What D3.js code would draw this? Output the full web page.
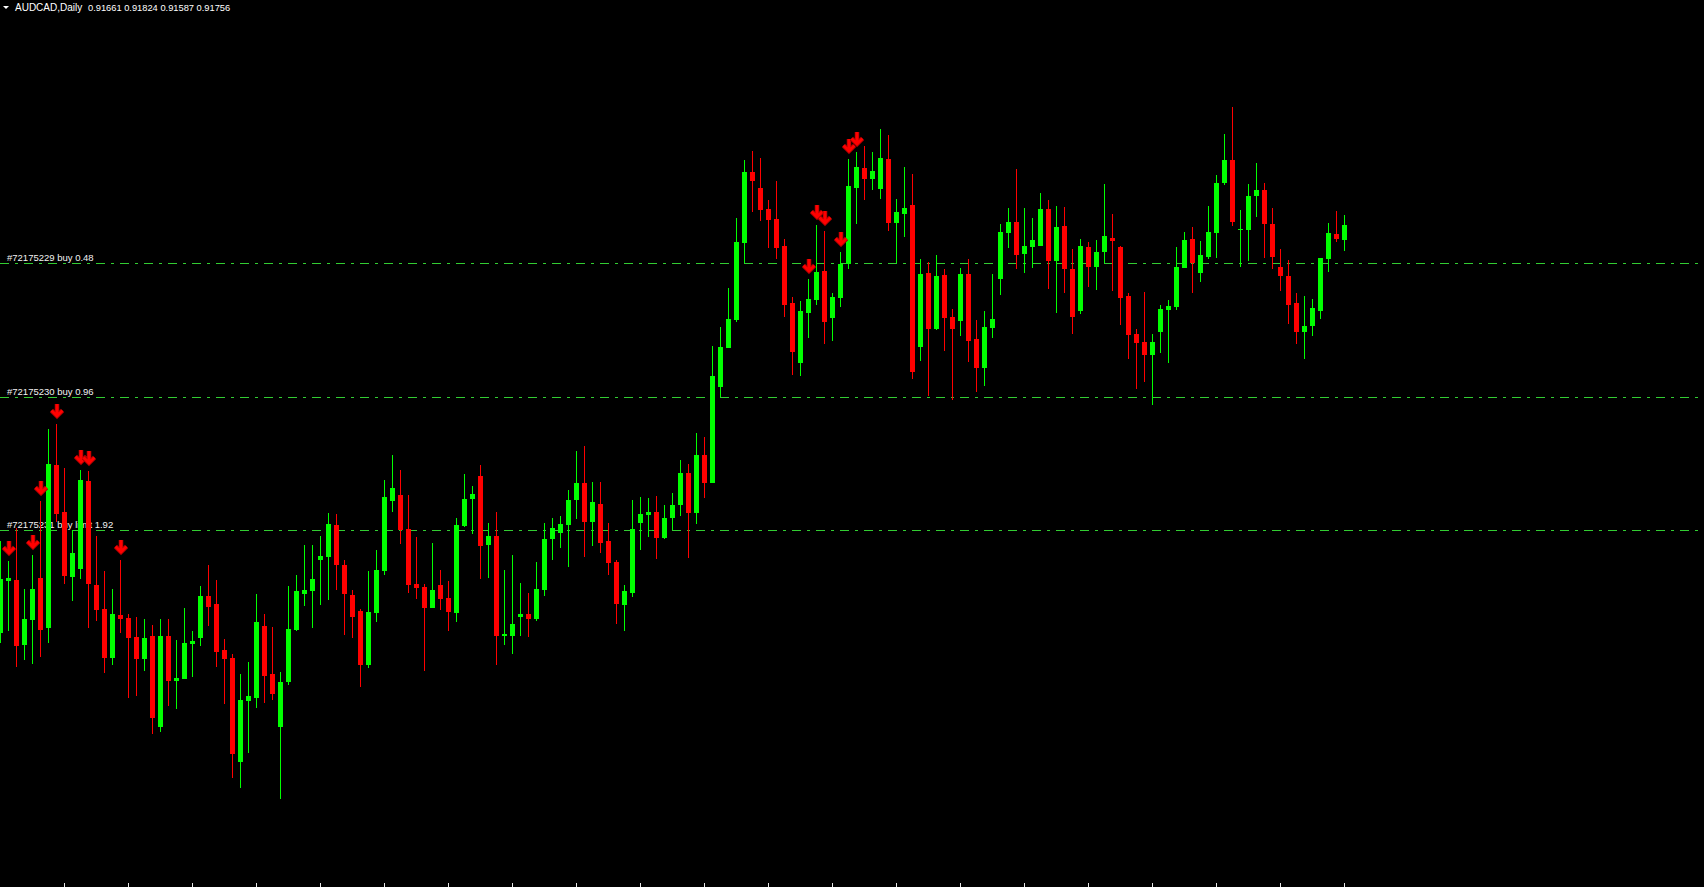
<!DOCTYPE html>
<html>
<head>
<meta charset="utf-8">
<script src="https://d3js.org/d3.v7.min.js"></script>
<style>
body { margin: 0; background: #000; overflow: hidden; }
svg { display: block; }
text { font-family: "Liberation Sans", Arial, sans-serif; }
</style>
</head>
<body>
<div id="chart"></div>
<script>

// header of the chart window
var symbol = "AUDCAD,Daily";
var lastQuote = "0.91661 0.91824 0.91587 0.91756";

// daily bars, oldest first
var open = [
  0.8767, 0.8819, 0.8820, 0.8755, 0.8780, 0.8822, 0.8772, 0.8935, 0.8888, 0.8823,
  0.8831, 0.8919, 0.8815, 0.8791, 0.8742, 0.8785, 0.8782, 0.8763, 0.8741, 0.8764,
  0.8673, 0.8764, 0.8719, 0.8721, 0.8756, 0.8762, 0.8804, 0.8796, 0.8750, 0.8742,
  0.8638, 0.8699, 0.8702, 0.8774, 0.8726, 0.8673, 0.8718, 0.8770, 0.8806, 0.8809,
  0.8840, 0.8843, 0.8875, 0.8835, 0.8805, 0.8789, 0.8735, 0.8787, 0.8829, 0.8899,
  0.8905, 0.8871, 0.8816, 0.8813, 0.8792, 0.8815, 0.8802, 0.8787, 0.8874, 0.8901,
  0.8924, 0.8855, 0.8864, 0.8764, 0.8764, 0.8783, 0.8786, 0.8781, 0.8810, 0.8861,
  0.8867, 0.8875, 0.8900, 0.8917, 0.8878, 0.8896, 0.8859, 0.8838, 0.8795, 0.8807,
  0.8877, 0.8885, 0.8888, 0.8862, 0.8882, 0.8895, 0.8927, 0.8887, 0.8945, 0.8917,
  0.9013, 0.9052, 0.9080, 0.9157, 0.9228, 0.9212, 0.9191, 0.9181, 0.9154, 0.9097,
  0.9037, 0.9087, 0.9100, 0.9129, 0.9082, 0.9102, 0.9136, 0.9212, 0.9232, 0.9221,
  0.9211, 0.9241, 0.9177, 0.9186, 0.9195, 0.9053, 0.9127, 0.9071, 0.9125, 0.9083,
  0.9079, 0.9126, 0.9061, 0.9032, 0.9072, 0.9121, 0.9167, 0.9178, 0.9146, 0.9153,
  0.9154, 0.9191, 0.9139, 0.9174, 0.9131, 0.9089, 0.9153, 0.9133, 0.9148, 0.9162,
  0.9153, 0.9104, 0.9066, 0.9058, 0.9045, 0.9068, 0.9090, 0.9093, 0.9132, 0.9161,
  0.9127, 0.9143, 0.9167, 0.9217, 0.9240, 0.9170, 0.9170, 0.9204, 0.9210, 0.9176,
  0.9133, 0.9124, 0.9097, 0.9068, 0.9074, 0.9089, 0.9141, 0.9166, 0.9160
];
var high = [
  0.8859, 0.8839, 0.8872, 0.8811, 0.8845, 0.8899, 0.8971, 0.8976, 0.8932, 0.8870,
  0.8930, 0.8929, 0.8864, 0.8829, 0.8811, 0.8840, 0.8786, 0.8783, 0.8781, 0.8775,
  0.8781, 0.8781, 0.8760, 0.8792, 0.8769, 0.8814, 0.8835, 0.8820, 0.8761, 0.8746,
  0.8726, 0.8738, 0.8806, 0.8786, 0.8773, 0.8728, 0.8814, 0.8825, 0.8855, 0.8855,
  0.8864, 0.8887, 0.8886, 0.8840, 0.8810, 0.8791, 0.8829, 0.8850, 0.8920, 0.8945,
  0.8930, 0.8905, 0.8863, 0.8816, 0.8857, 0.8830, 0.8819, 0.8882, 0.8926, 0.8914,
  0.8935, 0.8877, 0.8888, 0.8830, 0.8845, 0.8817, 0.8807, 0.8838, 0.8877, 0.8882,
  0.8884, 0.8910, 0.8949, 0.8954, 0.8918, 0.8918, 0.8877, 0.8840, 0.8815, 0.8900,
  0.8903, 0.8902, 0.8904, 0.8895, 0.8907, 0.8940, 0.8936, 0.8967, 0.8963, 0.9054,
  0.9073, 0.9112, 0.9182, 0.9240, 0.9249, 0.9242, 0.9200, 0.9219, 0.9161, 0.9103,
  0.9099, 0.9121, 0.9175, 0.9169, 0.9107, 0.9148, 0.9241, 0.9248, 0.9254, 0.9248,
  0.9271, 0.9265, 0.9201, 0.9233, 0.9226, 0.9141, 0.9138, 0.9145, 0.9131, 0.9091,
  0.9132, 0.9141, 0.9080, 0.9089, 0.9126, 0.9176, 0.9192, 0.9231, 0.9192, 0.9182,
  0.9207, 0.9200, 0.9194, 0.9193, 0.9151, 0.9161, 0.9158, 0.9160, 0.9216, 0.9186,
  0.9154, 0.9107, 0.9071, 0.9108, 0.9066, 0.9095, 0.9100, 0.9153, 0.9168, 0.9173,
  0.9159, 0.9194, 0.9225, 0.9266, 0.9293, 0.9190, 0.9216, 0.9237, 0.9217, 0.9192,
  0.9151, 0.9140, 0.9107, 0.9104, 0.9101, 0.9142, 0.9177, 0.9189, 0.9185
];
var low = [
  0.8757, 0.8769, 0.8733, 0.8740, 0.8736, 0.8743, 0.8757, 0.8878, 0.8816, 0.8799,
  0.8821, 0.8772, 0.8779, 0.8727, 0.8735, 0.8767, 0.8702, 0.8704, 0.8729, 0.8666,
  0.8668, 0.8694, 0.8691, 0.8721, 0.8723, 0.8754, 0.8774, 0.8733, 0.8696, 0.8622,
  0.8612, 0.8647, 0.8692, 0.8697, 0.8700, 0.8601, 0.8715, 0.8769, 0.8794, 0.8772,
  0.8795, 0.8800, 0.8810, 0.8765, 0.8762, 0.8713, 0.8732, 0.8778, 0.8825, 0.8888,
  0.8856, 0.8807, 0.8801, 0.8729, 0.8792, 0.8790, 0.8769, 0.8778, 0.8873, 0.8866,
  0.8821, 0.8822, 0.8735, 0.8755, 0.8746, 0.8764, 0.8763, 0.8779, 0.8804, 0.8840,
  0.8852, 0.8833, 0.8881, 0.8843, 0.8854, 0.8847, 0.8825, 0.8776, 0.8769, 0.8803,
  0.8850, 0.8863, 0.8841, 0.8861, 0.8870, 0.8884, 0.8842, 0.8876, 0.8902, 0.8917,
  0.9003, 0.9052, 0.9078, 0.9137, 0.9188, 0.9179, 0.9152, 0.9141, 0.9083, 0.9025,
  0.9024, 0.9062, 0.9095, 0.9056, 0.9059, 0.9093, 0.9131, 0.9176, 0.9200, 0.9210,
  0.9201, 0.9169, 0.9137, 0.9163, 0.9021, 0.9039, 0.9004, 0.9070, 0.9049, 0.9000,
  0.9064, 0.9038, 0.9008, 0.9014, 0.9062, 0.9105, 0.9152, 0.9131, 0.9127, 0.9132,
  0.9154, 0.9111, 0.9087, 0.9107, 0.9066, 0.9086, 0.9113, 0.9110, 0.9137, 0.9109,
  0.9075, 0.9041, 0.9011, 0.9018, 0.8995, 0.9047, 0.9037, 0.9090, 0.9132, 0.9107,
  0.9118, 0.9141, 0.9142, 0.9215, 0.9174, 0.9133, 0.9139, 0.9183, 0.9142, 0.9131,
  0.9109, 0.9076, 0.9056, 0.9041, 0.9064, 0.9081, 0.9128, 0.9158, 0.9149
];
var close = [
  0.8821, 0.8822, 0.8754, 0.8781, 0.8811, 0.8770, 0.8936, 0.8886, 0.8824, 0.8847,
  0.8920, 0.8816, 0.8790, 0.8742, 0.8786, 0.8781, 0.8762, 0.8741, 0.8762, 0.8682,
  0.8764, 0.8719, 0.8722, 0.8757, 0.8759, 0.8804, 0.8793, 0.8748, 0.8741, 0.8646,
  0.8700, 0.8704, 0.8778, 0.8724, 0.8706, 0.8718, 0.8771, 0.8809, 0.8810, 0.8821,
  0.8844, 0.8876, 0.8835, 0.8806, 0.8783, 0.8735, 0.8788, 0.8830, 0.8903, 0.8912,
  0.8870, 0.8815, 0.8812, 0.8792, 0.8810, 0.8801, 0.8788, 0.8875, 0.8901, 0.8906,
  0.8854, 0.8864, 0.8764, 0.8766, 0.8776, 0.8786, 0.8781, 0.8811, 0.8861, 0.8872,
  0.8876, 0.8900, 0.8917, 0.8878, 0.8898, 0.8857, 0.8837, 0.8796, 0.8809, 0.8871,
  0.8886, 0.8888, 0.8862, 0.8882, 0.8895, 0.8927, 0.8887, 0.8945, 0.8917, 0.9024,
  0.9053, 0.9081, 0.9158, 0.9228, 0.9219, 0.9190, 0.9180, 0.9152, 0.9095, 0.9048,
  0.9089, 0.9101, 0.9128, 0.9078, 0.9103, 0.9136, 0.9214, 0.9233, 0.9221, 0.9229,
  0.9242, 0.9177, 0.9188, 0.9192, 0.9028, 0.9126, 0.9071, 0.9124, 0.9082, 0.9071,
  0.9126, 0.9059, 0.9032, 0.9073, 0.9081, 0.9168, 0.9178, 0.9145, 0.9154, 0.9160,
  0.9191, 0.9139, 0.9173, 0.9131, 0.9083, 0.9154, 0.9133, 0.9148, 0.9164, 0.9159,
  0.9102, 0.9065, 0.9057, 0.9045, 0.9058, 0.9091, 0.9094, 0.9133, 0.9160, 0.9137,
  0.9145, 0.9168, 0.9217, 0.9240, 0.9178, 0.9171, 0.9204, 0.9210, 0.9176, 0.9143,
  0.9124, 0.9095, 0.9068, 0.9074, 0.9092, 0.9142, 0.9167, 0.9161, 0.9175
];

// bars that carry a sell arrow (index into the arrays above)
var sellArrows = [1, 4, 5, 7, 10, 11, 15, 101, 102, 103, 105, 106, 107];

// open orders drawn as horizontal levels
var orderLabels = ["#72175229 buy 0.48", "#72175230 buy 0.96", "#72175231 buy limit 1.92"];
var orderPrices = [0.9137, 0.9003, 0.8870];

var width = 1704, height = 887;

var bars = open.map(function(o, i) {
  return { i: i, o: o, h: high[i], l: low[i], c: close[i] };
});

var x = d3.scaleLinear().domain([0, bars.length - 1]).range([0, (bars.length - 1) * 8]);
var y = d3.scaleLinear().domain([0.94, 0.8513]).range([0, height]);
var px = function(v) { return Math.round(v); };

var svg = d3.select("#chart").append("svg")
  .attr("width", width)
  .attr("height", height)
  .attr("shape-rendering", "crispEdges");

svg.append("rect").attr("width", width).attr("height", height).attr("fill", "#000");

// order levels
var orders = orderPrices.map(function(p, i) { return { price: p, label: orderLabels[i] }; });

svg.append("g").selectAll("line")
  .data(orders)
  .join("line")
    .attr("x1", 0)
    .attr("x2", width)
    .attr("y1", d => px(y(d.price)) + 0.5)
    .attr("y2", d => px(y(d.price)) + 0.5)
    .attr("stroke", "#32cd32")
    .attr("stroke-width", 1)
    .attr("stroke-dasharray", "9,6,3,6");

svg.append("g").selectAll("text")
  .data(orders)
  .join("text")
    .attr("x", 7)
    .attr("y", d => px(y(d.price)) - 2)
    .attr("fill", "#f2f2f2")
    .attr("font-size", "9.5px")
    .text(d => d.label);

// candles
var candle = svg.append("g").selectAll("g")
  .data(bars)
  .join("g")
    .attr("fill", d => d.c >= d.o ? "#00ff00" : "#ff0000");

candle.append("rect")
  .attr("x", d => px(x(d.i)))
  .attr("width", 1)
  .attr("y", d => px(y(d.h)))
  .attr("height", d => Math.max(1, px(y(d.l)) - px(y(d.h))));

candle.append("rect")
  .attr("x", d => px(x(d.i)) - 2)
  .attr("width", 5)
  .attr("y", d => px(y(Math.max(d.o, d.c))))
  .attr("height", d => Math.max(1, px(y(Math.min(d.o, d.c))) - px(y(Math.max(d.o, d.c)))));

// sell arrows above the bar high
var arrowPath = "M0,-14V-2M-5.5,-7.5L0,-2L5.5,-7.5";
var arrows = svg.append("g")
  .attr("shape-rendering", "auto")
  .selectAll("g")
  .data(sellArrows.map(i => bars[i]))
  .join("g")
    .attr("transform", d => "translate(" + (px(x(d.i)) + 1) + "," + (px(y(d.h)) - 6) + ")");

arrows.append("path")
  .attr("d", arrowPath)
  .attr("fill", "none")
  .attr("stroke", "#a00000")
  .attr("stroke-width", 4.6);

arrows.append("path")
  .attr("d", arrowPath)
  .attr("fill", "none")
  .attr("stroke", "#ff0000")
  .attr("stroke-width", 3);

// time axis ticks at the bottom edge
svg.append("g")
  .attr("transform", "translate(0," + height + ")")
  .attr("color", "#e8e8e8")
  .call(d3.axisTop(x)
    .tickValues(d3.range(8, bars.length, 8))
    .tickSize(4)
    .tickFormat(""))
  .call(g => g.select(".domain").remove());

// header
svg.append("path")
  .attr("d", "M3,6L9,6L6,9Z")
  .attr("fill", "#ffffff")
  .attr("shape-rendering", "auto");

svg.append("text")
  .attr("x", 15)
  .attr("y", 11)
  .attr("fill", "#ffffff")
  .attr("font-size", "10px")
  .text(symbol);

svg.append("text")
  .attr("x", 88)
  .attr("y", 11)
  .attr("fill", "#ffffff")
  .attr("font-size", "9.3px")
  .text(lastQuote);

</script>
</body>
</html>
